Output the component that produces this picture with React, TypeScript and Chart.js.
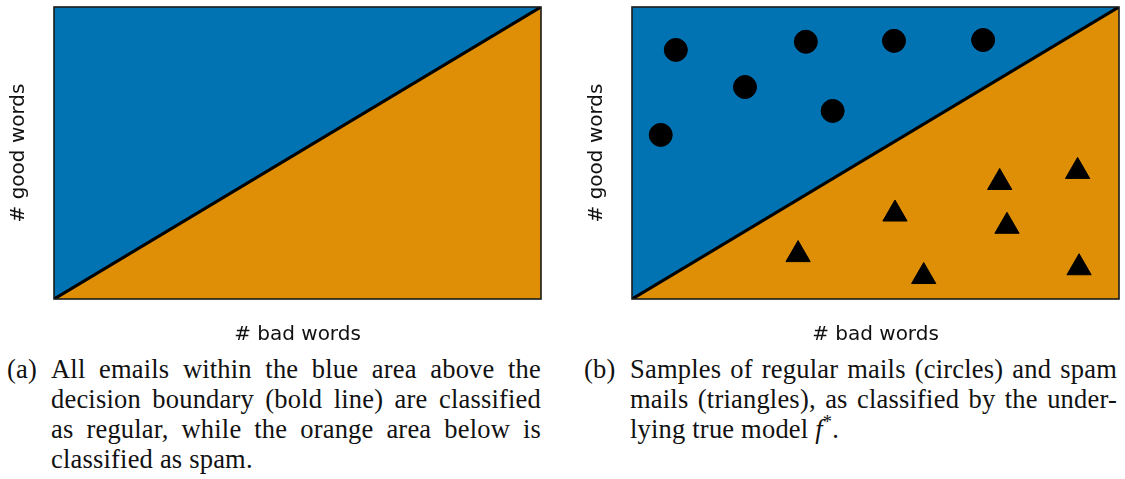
import React, { useEffect, useRef } from "react";
import { Chart, registerables } from "chart.js";

Chart.register(...registerables);

// Palette
const BLUE = "#0173B2";
const ORANGE = "#DE8F05";
const INK = "#111111";

// Feature space (arbitrary units)
const axisMin = 0;
const axisMax = 10;

// Decision boundary: endpoints of the separating line
const boundaryX = [0, 10];
const boundaryY = [0, 10];

// Regular mails (circles)
const regularX = [0.9, 3.57, 5.38, 7.21, 2.32, 4.12, 0.59];
const regularY = [8.53, 8.81, 8.84, 8.87, 7.26, 6.44, 5.62];

// Spam mails (triangles)
const spamX = [3.41, 5.4, 5.99, 7.55, 7.7, 9.15, 9.18];
const spamY = [1.52, 2.91, 0.77, 3.99, 2.49, 4.37, 1.07];

// Axis titles
const xTitle = "# bad words";
const yTitle = "# good words";

// Captions
const captionALabel = "(a)";
const captionALines = [
  "All emails within the blue area above the",
  "decision boundary (bold line) are classified",
  "as regular, while the orange area below is",
  "classified as spam.",
];
const captionBLabel = "(b)";
const captionBLines = [
  "Samples of regular mails (circles) and spam",
  "mails (triangles), as classified by the under-",
];
const captionBLastLine = "lying true model ";
const modelSymbol = "f";
const modelSuperscript = "*";

const LINE_H = 30;

const toPoints = (xs: number[], ys: number[]) => xs.map((x, i) => ({ x, y: ys[i] }));

// Draws the black frame around the plotting area
const framePlugin = {
  id: "frame",
  afterDatasetsDraw(chart: any) {
    const { ctx, chartArea: a } = chart;
    ctx.save();
    ctx.strokeStyle = "#1a1a1a";
    ctx.lineWidth = 1.6;
    ctx.strokeRect(a.left, a.top, a.right - a.left, a.bottom - a.top);
    ctx.restore();
  },
};

function makeConfig(withSamples: boolean, padRight: number): any {
  const boundary = toPoints(boundaryX, boundaryY);
  const datasets: any[] = [];
  if (withSamples) {
    datasets.push({
      type: "scatter",
      label: "regular",
      data: toPoints(regularX, regularY),
      pointStyle: "circle",
      pointRadius: 11.5,
      backgroundColor: "#000",
      borderColor: "#000",
      borderWidth: 1,
      order: 0,
    });
    datasets.push({
      type: "scatter",
      label: "spam",
      data: toPoints(spamX, spamY),
      pointStyle: "triangle",
      pointRadius: 14,
      backgroundColor: "#000",
      borderColor: "#000",
      borderWidth: 1,
      order: 0,
    });
  }
  datasets.push({
    type: "line",
    label: "spam area",
    data: boundary,
    fill: "start",
    backgroundColor: ORANGE,
    borderColor: "#000",
    borderWidth: 3.2,
    pointRadius: 0,
    tension: 0,
    order: 1,
  });
  datasets.push({
    type: "line",
    label: "regular area",
    data: boundary,
    fill: "end",
    backgroundColor: BLUE,
    borderColor: "rgba(0,0,0,0)",
    borderWidth: 0,
    pointRadius: 0,
    tension: 0,
    order: 2,
  });

  const titleFont = { family: "'DejaVu Sans'", size: 20 };
  return {
    type: "scatter",
    data: { datasets },
    options: {
      animation: false,
      responsive: false,
      devicePixelRatio: 1,
      layout: { autoPadding: false, padding: { left: 0, top: 7, right: padRight, bottom: 0 } },
      plugins: { legend: { display: false }, tooltip: { enabled: false } },
      events: [],
      scales: {
        x: {
          type: "linear",
          min: axisMin,
          max: axisMax,
          ticks: { display: false },
          grid: { display: false, drawTicks: false, tickLength: 0 },
          border: { display: false },
          title: {
            display: true,
            text: xTitle,
            color: INK,
            font: titleFont,
            padding: { top: 24, bottom: 0 },
          },
        },
        y: {
          type: "linear",
          min: axisMin,
          max: axisMax,
          ticks: { display: false },
          grid: { display: false, drawTicks: false, tickLength: 0 },
          border: { display: false },
          title: {
            display: true,
            text: yTitle,
            color: INK,
            font: titleFont,
            padding: { top: 7, bottom: 23 },
          },
        },
      },
    },
    plugins: [framePlugin],
  };
}

function Panel(props: { left: number; width: number; padRight: number; withSamples: boolean }) {
  const ref = useRef<HTMLCanvasElement | null>(null);
  useEffect(() => {
    if (!ref.current) return;
    const chart = new Chart(ref.current, makeConfig(props.withSamples, props.padRight));
    return () => chart.destroy();
  }, []);
  return (
    <canvas
      ref={ref}
      width={props.width}
      height={347}
      style={{ position: "absolute", left: props.left, top: 0, width: props.width, height: 347 }}
    />
  );
}

const captionFont: React.CSSProperties = {
  fontFamily: "'Liberation Serif', serif",
  fontSize: 26.5,
  letterSpacing: "0.2px",
  color: INK,
};

function CaptionLine(props: { justify: boolean; children: React.ReactNode }) {
  return (
    <div
      style={{
        height: LINE_H,
        lineHeight: LINE_H + "px",
        textAlign: props.justify ? "justify" : "left",
        textAlignLast: props.justify ? "justify" : "left",
      } as React.CSSProperties}
    >
      {props.children}
    </div>
  );
}

function Caption(props: {
  left: number;
  width: number;
  indent: number;
  label: string;
  lines: string[];
  tail?: React.ReactNode;
}) {
  return (
    <div style={{ ...captionFont, position: "absolute", left: props.left, top: 353.5, width: props.width }}>
      <div style={{ position: "absolute", left: 0, top: 0, lineHeight: LINE_H + "px" }}>{props.label}</div>
      <div style={{ marginLeft: props.indent }}>
        {props.lines.map((t, i) => (
          <CaptionLine key={i} justify={props.tail ? true : i < props.lines.length - 1}>
            {t}
          </CaptionLine>
        ))}
        {props.tail ? <CaptionLine justify={false}>{props.tail}</CaptionLine> : null}
      </div>
    </div>
  );
}

export default function App() {
  return (
    <div
      style={{
        position: "absolute",
        left: 0,
        top: 0,
        width: 1125,
        height: 479,
        background: "#fff",
        overflow: "hidden",
      }}
    >
      <Panel left={0} width={560} padRight={19} withSamples={false} />
      <Panel left={578} width={547} padRight={6} withSamples={true} />
      <Caption left={7} width={534} indent={44} label={captionALabel} lines={captionALines} />
      <Caption
        left={584}
        width={533}
        indent={46}
        label={captionBLabel}
        lines={captionBLines}
        tail={
          <span>
            {captionBLastLine}
            <i>{modelSymbol}</i>
            <sup style={{ fontSize: "0.7em", lineHeight: 0, verticalAlign: "0.55em" }}>{modelSuperscript}</sup>.
          </span>
        }
      />
    </div>
  );
}
